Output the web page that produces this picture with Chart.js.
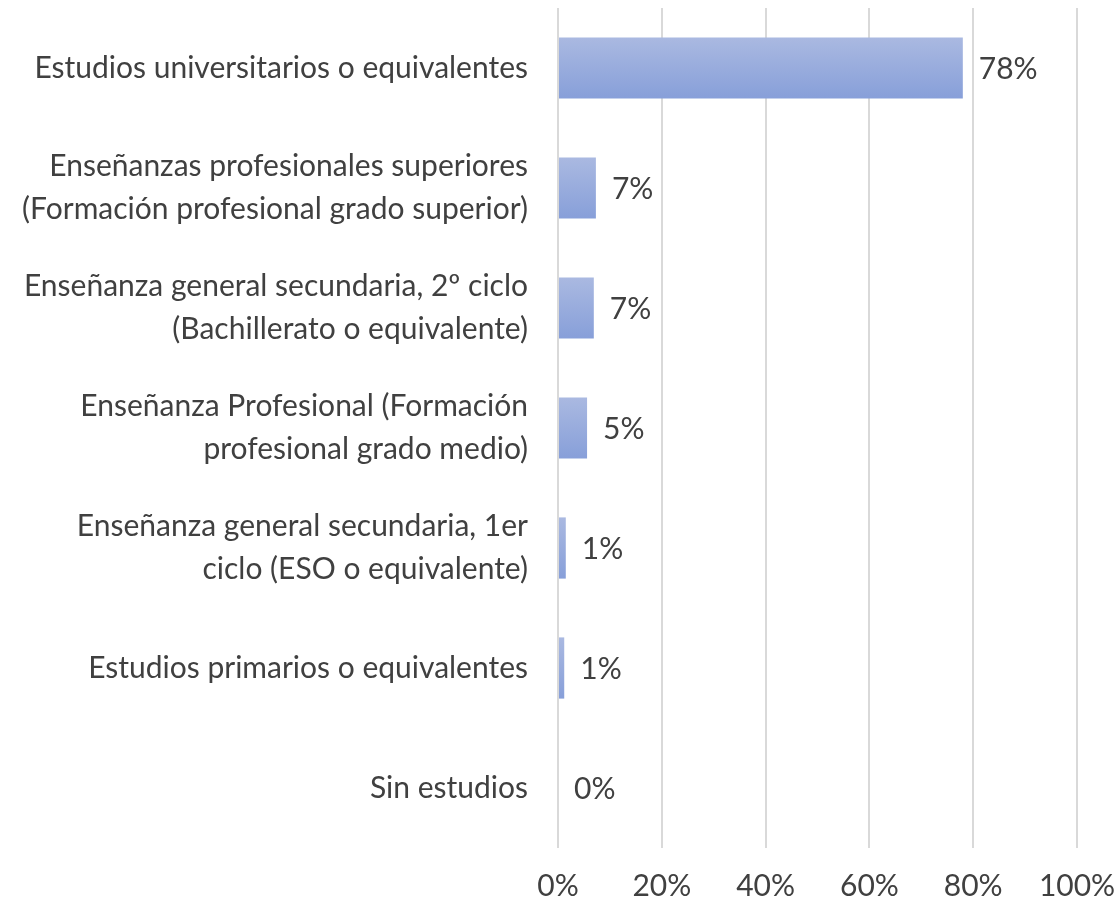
<!DOCTYPE html>
<html>
<head>
<meta charset="utf-8">
<script src="https://cdn.jsdelivr.net/npm/chart.js@4"></script>
<style>
  html, body { margin: 0; padding: 0; background: #fff; }
  #wrap { width: 1115px; height: 905px; }
</style>
</head>
<body>
<div id="wrap"><canvas id="chart" width="1115" height="905"></canvas></div>
<script>
// categories (top to bottom)
const categories = [
    ["Estudios universitarios o equivalentes"],
    ["Enseñanzas profesionales superiores", "(Formación profesional grado superior)"],
    ["Enseñanza general secundaria, 2º ciclo", "(Bachillerato o equivalente)"],
    ["Enseñanza Profesional (Formación", "profesional grado medio)"],
    ["Enseñanza general secundaria, 1er", "ciclo (ESO o equivalente)"],
    ["Estudios primarios o equivalentes"],
    ["Sin estudios"]
];
// share of respondents, percent
const values = [78, 7.3, 6.9, 5.6, 1.5, 1.2, 0];
const valueLabels = ["78%", "7%", "7%", "5%", "1%", "1%", "0%"];
const xTicks = [0, 20, 40, 60, 80, 100];

const FONT = "Lato, 'Open Sans', sans-serif";
const TEXT = "#404040";

// vertical gradient on each bar, light on top
const barGradient = {
    id: "barGradient",
    beforeDatasetsDraw(chart) {
        const c = chart.ctx;
        chart.getDatasetMeta(0).data.forEach(el => {
            const top = el.y - el.height / 2;
            const g = c.createLinearGradient(0, top, 0, top + el.height);
            g.addColorStop(0, "#aab9e1");
            g.addColorStop(1, "#879fd9");
            el.options = Object.assign({}, el.options, { backgroundColor: g });
        });
    }
};

// value labels after bar end
const valueLabelPlugin = {
    id: "valueLabels",
    afterDatasetsDraw(chart) {
        const c = chart.ctx;
        c.save();
        c.font = "30px " + FONT;
        c.fillStyle = TEXT;
        c.textBaseline = "middle";
        c.textAlign = "left";
        chart.getDatasetMeta(0).data.forEach((el, i) => {
            c.fillText(valueLabels[i], el.x + 16, el.y + 1);
        });
        c.restore();
    }
};

new Chart(document.getElementById("chart"), {
    type: "bar",
    data: {
        labels: categories,
        datasets: [{
            data: values,
            backgroundColor: "#98acdd",
            barPercentage: 1,
            categoryPercentage: 0.51
        }]
    },
    options: {
        indexAxis: "y",
        responsive: false,
        animation: false,
        layout: { padding: { top: 8, right: 38, bottom: 0, left: 0 } },
        plugins: {
            legend: { display: false },
            tooltip: { enabled: false }
        },
        scales: {
            x: {
                min: 0,
                max: 100,
                afterBuildTicks: s => { s.ticks = xTicks.map(v => ({ value: v })); },
                grid: { color: "#d9d9d9", lineWidth: 2, drawTicks: false },
                border: { display: false },
                ticks: {
                    color: TEXT,
                    font: { family: FONT, size: 30 },
                    padding: 20,
                    maxRotation: 0,
                    callback: v => v + "%"
                },
                afterFit: s => { s.height = 57; s.paddingLeft = 0; s.paddingRight = 0; }
            },
            y: {
                grid: { display: false, drawTicks: false },
                border: { display: false },
                ticks: {
                    color: TEXT,
                    font: { family: FONT, size: 30, lineHeight: 1.43 },
                    padding: 30
                },
                afterFit: s => { s.width = 558; s.paddingTop = 0; s.paddingBottom = 0; }
            }
        }
    },
    plugins: [barGradient, valueLabelPlugin]
});
</script>
</body>
</html>
